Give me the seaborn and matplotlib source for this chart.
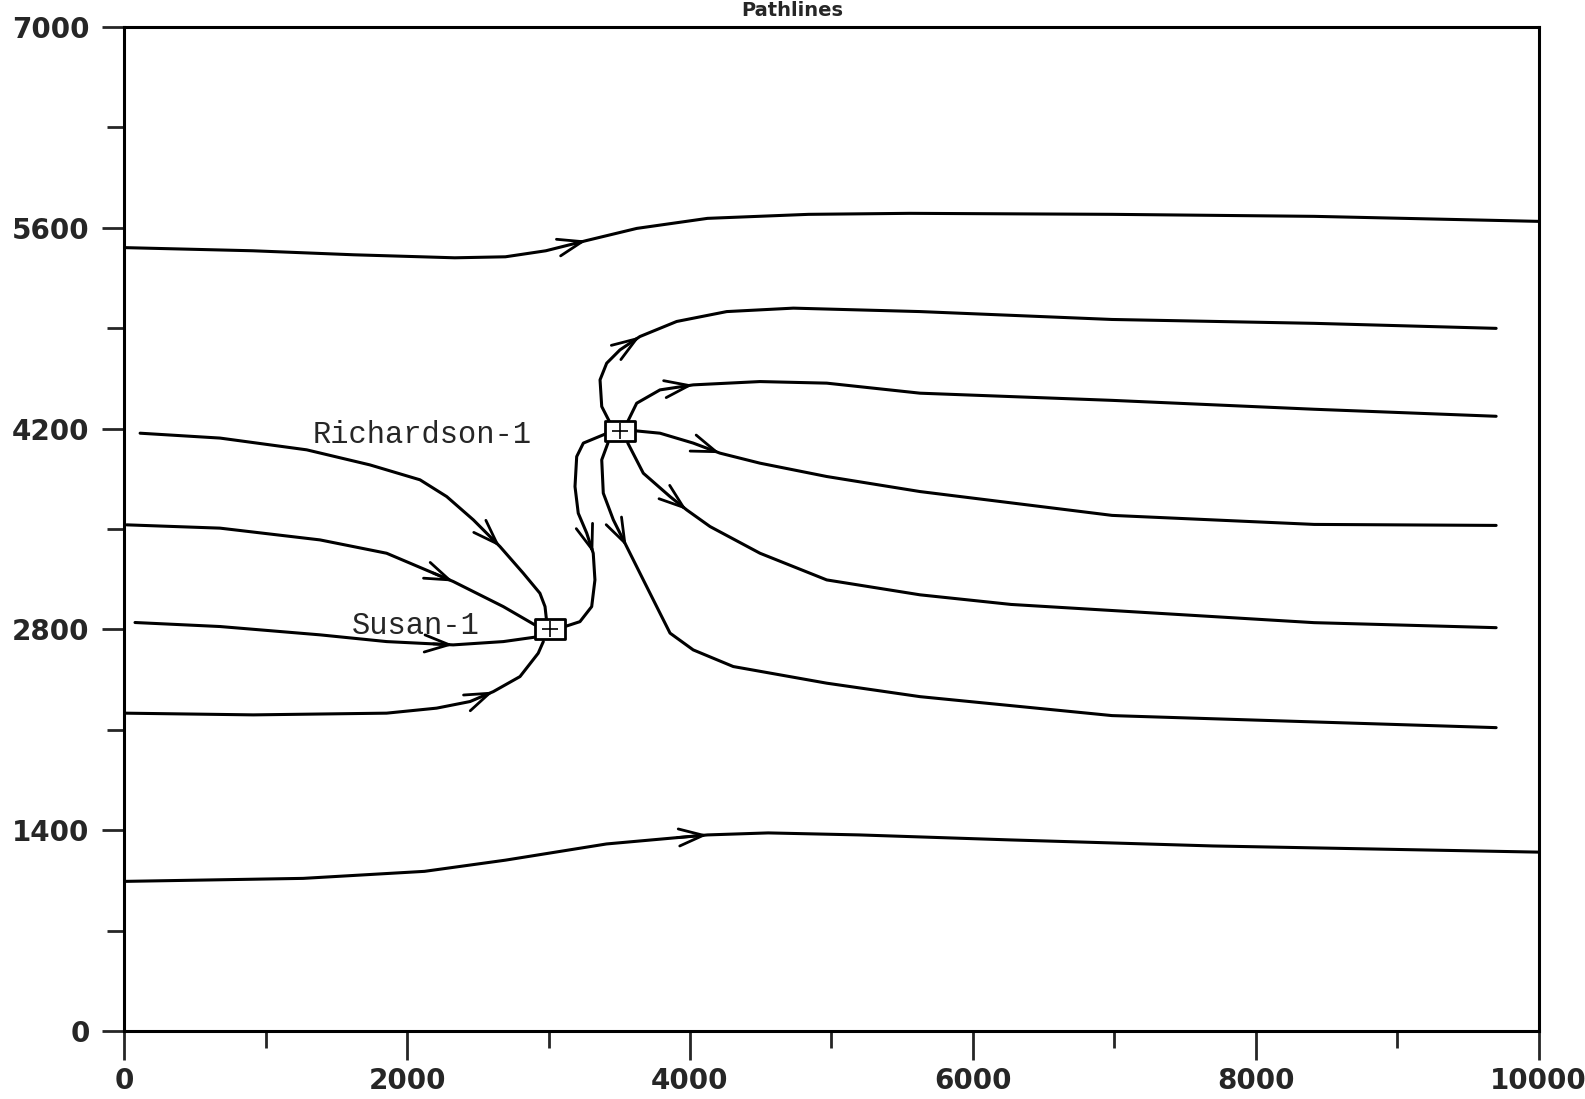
import numpy as np
import pandas as pd
import matplotlib
matplotlib.use("Agg")
import matplotlib.pyplot as plt
import seaborn as sns
from matplotlib.path import Path

# wells
well_names = ["Susan-1", "Richardson-1"]
well_x = [3010, 3505]
well_y = [2800, 4180]

# pathlines (x, y), listed in flow direction
top_x = [0, 908, 1623, 2337, 2695, 2981, 3267, 3624, 4124, 4839, 5554, 6984, 8413, 10000]
top_y = [5462, 5440, 5412, 5391, 5398, 5440, 5511, 5596, 5666, 5694, 5701, 5694, 5680, 5645]

bot_x = [0, 1265, 2123, 2695, 3410, 4124, 4553, 5197, 6269, 7698, 10000]
bot_y = [1043, 1064, 1113, 1191, 1304, 1367, 1381, 1367, 1332, 1290, 1247]

a_x = [112, 677, 1290, 1737, 2091, 2280, 2468, 2657, 2821, 2939, 2975, 2985]
a_y = [4168, 4134, 4052, 3947, 3843, 3726, 3564, 3377, 3192, 3052, 2959, 2870]

b_x = [17, 677, 1384, 1855, 2326, 2680, 2904]
b_y = [3529, 3506, 3424, 3331, 3134, 2959, 2831]

c_x = [76, 677, 1384, 1855, 2326, 2680, 2904]
c_y = [2848, 2820, 2762, 2715, 2692, 2715, 2746]

d_x = [0, 912, 1855, 2209, 2445, 2609, 2798, 2927, 2963]
d_y = [2216, 2204, 2216, 2251, 2297, 2366, 2471, 2634, 2715]

# Richardson-1 to Susan-1
conn_x = [3420, 3246, 3199, 3187, 3210, 3270, 3316, 3328, 3305, 3222, 3116]
conn_y = [4170, 4099, 4005, 3796, 3610, 3471, 3331, 3145, 2959, 2854, 2820]

e_x = [3430, 3376, 3364, 3411, 3505, 3646, 3906, 4260, 4731, 5627, 6984, 8414, 9700]
e_y = [4250, 4354, 4540, 4656, 4749, 4842, 4947, 5016, 5040, 5016, 4961, 4934, 4899]

f_x = [3560, 3623, 3788, 4023, 4495, 4967, 5627, 6984, 8413, 9700]
f_y = [4250, 4377, 4470, 4505, 4528, 4517, 4447, 4397, 4335, 4286]

g_x = [3610, 3788, 4023, 4212, 4495, 4967, 5627, 6984, 8413, 9700]
g_y = [4185, 4168, 4099, 4029, 3959, 3866, 3761, 3595, 3532, 3525]

h_x = [3560, 3670, 3859, 3977, 4142, 4495, 4967, 5627, 6270, 8413, 9700]
h_y = [4100, 3889, 3726, 3633, 3517, 3331, 3145, 3041, 2974, 2847, 2812]

i_x = [3420, 3376, 3387, 3458, 3552, 3670, 3788, 3859, 4023, 4306, 4967, 5627, 6984, 9700]
i_y = [4100, 3982, 3750, 3564, 3378, 3145, 2913, 2774, 2657, 2541, 2425, 2331, 2199, 2115]

paths = [(top_x, top_y), (bot_x, bot_y), (a_x, a_y), (b_x, b_y), (c_x, c_y),
         (d_x, d_y), (conn_x, conn_y), (e_x, e_y), (f_x, f_y), (g_x, g_y),
         (h_x, h_y), (i_x, i_y)]
# vertex index on each path where the arrow head sits
arrow_at = [6, 5, 7, 4, 4, 5, 6, 5, 3, 3, 3, 4]

sns.set_style("white")
plt.rcParams["font.family"] = ["DejaVu Sans"]

fig = plt.figure(figsize=(15.85, 10.99), dpi=100)
ax = fig.add_axes([0.0784, 0.0619, 0.8923, 0.9135])

for k, (px, py) in enumerate(paths):
    df = pd.DataFrame({"x": px, "y": py})
    sns.lineplot(data=df, x="x", y="y", sort=False, estimator=None,
                 color="black", lw=2.2, ax=ax)
    j = arrow_at[k]
    x1, y1 = px[j], py[j]
    x0 = x1 - 0.3 * (x1 - px[j - 1])
    y0 = y1 - 0.3 * (y1 - py[j - 1])
    ax.annotate("", xy=(x1, y1), xytext=(x0, y0),
                arrowprops=dict(arrowstyle="->,head_length=0.8,head_width=0.28",
                                color="black", lw=2, mutation_scale=22,
                                shrinkA=0, shrinkB=0))

# well boxes
box = Path([(-1.45, -1), (1.45, -1), (1.45, 1), (-1.45, 1), (-1.45, -1)],
           [Path.MOVETO, Path.LINETO, Path.LINETO, Path.LINETO, Path.CLOSEPOLY])
wells = pd.DataFrame({"x": well_x, "y": well_y, "name": well_names})
sns.scatterplot(data=wells, x="x", y="y", marker=box, s=470, color="white",
                edgecolor="black", linewidth=2, zorder=5, ax=ax)
sns.scatterplot(data=wells, x="x", y="y", marker="+", s=120, color="black",
                linewidth=1.2, zorder=6, ax=ax)

ax.text(1335, 4157, "Richardson-1", family="Liberation Mono", fontsize=22,
        va="center", ha="left")
ax.text(1610, 2824, "Susan-1", family="Liberation Mono", fontsize=22,
        va="center", ha="left")

ax.set_xlim(0, 10000)
ax.set_ylim(0, 7000)
ax.set_xticks(np.arange(0, 10001, 2000))
ax.set_xticks(np.arange(1000, 10000, 2000), minor=True)
ax.set_yticks(np.arange(0, 7001, 1400))
ax.set_yticks(np.arange(700, 7000, 1400), minor=True)
ax.tick_params(axis="x", which="major", length=21, width=2, direction="out",
               labelsize=20, pad=5, bottom=True)
ax.tick_params(axis="x", which="minor", length=12, width=2, direction="out",
               bottom=True)
ax.tick_params(axis="y", which="major", length=16, width=2, direction="out",
               labelsize=20, pad=9, left=True)
ax.tick_params(axis="y", which="minor", length=12, width=2, direction="out",
               left=True)
for lab in ax.get_xticklabels() + ax.get_yticklabels():
    lab.set_fontweight("bold")
for s in ax.spines.values():
    s.set_visible(True)
    s.set_linewidth(2.2)
    s.set_color("black")
ax.set_xlabel("")
ax.set_ylabel("")

fig.text(0.5, 0.999, "Pathlines", ha="center", va="top", fontsize=14,
         fontweight="bold")

fig.savefig("out.png", dpi=100)
